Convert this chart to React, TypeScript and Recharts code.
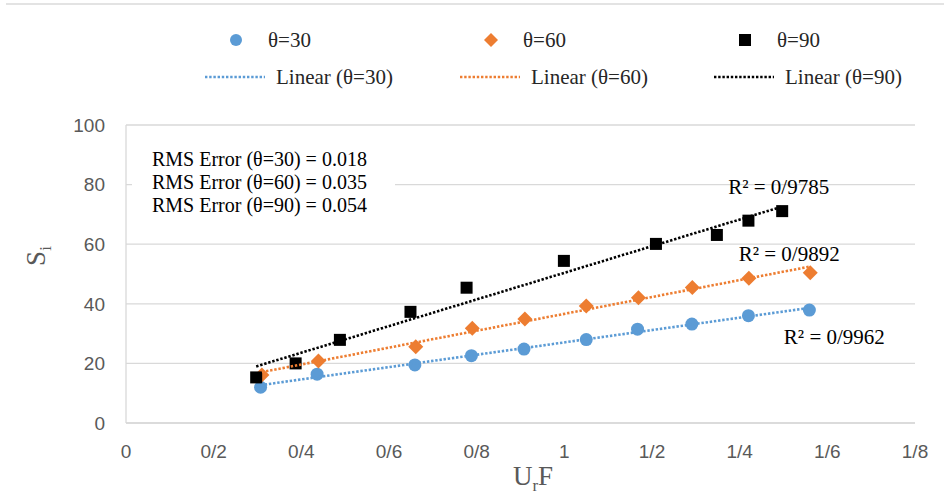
import { ScatterChart, Scatter, XAxis, YAxis, CartesianGrid, ReferenceDot } from 'recharts';

const xTicks = [0, 0.2, 0.4, 0.6, 0.8, 1, 1.2, 1.4, 1.6, 1.8];
const yTicks = [0, 20, 40, 60, 80, 100];

// U_rF / S_i readings for each angle
const ufTheta30 = [0.307, 0.436, 0.659, 0.788, 0.908, 1.05, 1.167, 1.291, 1.42, 1.559];
const siTheta30 = [12.0, 16.4, 19.5, 22.6, 24.8, 28.0, 31.5, 33.2, 36.0, 37.9];
const ufTheta60 = [0.31, 0.439, 0.661, 0.79, 0.91, 1.05, 1.169, 1.292, 1.421, 1.561];
const siTheta60 = [16.1, 20.8, 25.6, 31.8, 34.9, 39.3, 42.0, 45.5, 48.6, 50.4];
const ufTheta90 = [0.297, 0.387, 0.488, 0.649, 0.777, 0.999, 1.209, 1.348, 1.42, 1.497];
const siTheta90 = [15.3, 20.0, 27.9, 37.3, 45.4, 54.4, 60.1, 63.1, 67.9, 71.1];

const seriesNames = ['θ=30', 'θ=60', 'θ=90'];
const trendNames = ['Linear (θ=30)', 'Linear (θ=60)', 'Linear (θ=90)'];
const r2Labels = ['R² = 0/9962', 'R² = 0/9892', 'R² = 0/9785'];
const rmsLabels = ['RMS Error (θ=30) = 0.018', 'RMS Error (θ=60) = 0.035', 'RMS Error (θ=90) = 0.054'];

const BLUE = '#5B9BD5';
const ORANGE = '#ED7D31';
const BLACK = '#000000';
const colors = [BLUE, ORANGE, BLACK];
const serif = '"Liberation Serif", "Times New Roman", serif';
const narrow = '"Liberation Sans Narrow", "Arial Narrow", "Liberation Sans", sans-serif';

const toPoints = (xs: number[], ys: number[]) => xs.map((x, i) => ({ x, y: ys[i] }));

// least squares line, drawn from first to last x like Excel does
function trend(xs: number[], ys: number[]) {
  const n = xs.length;
  const mx = xs.reduce((a, b) => a + b, 0) / n;
  const my = ys.reduce((a, b) => a + b, 0) / n;
  let sxy = 0;
  let sxx = 0;
  xs.forEach((x, i) => {
    sxy += (x - mx) * (ys[i] - my);
    sxx += (x - mx) * (x - mx);
  });
  const b = sxy / sxx;
  const a = my - b * mx;
  const x0 = Math.min(...xs);
  const x1 = Math.max(...xs);
  return [
    { x: x0, y: a + b * x0 },
    { x: x1, y: a + b * x1 },
  ];
}

const circleShape = (p: any) => <circle cx={p.cx} cy={p.cy} r={6.5} fill={BLUE} />;
const diamondShape = (p: any) => (
  <polygon
    points={`${p.cx},${p.cy - 7.5} ${p.cx + 7.5},${p.cy} ${p.cx},${p.cy + 7.5} ${p.cx - 7.5},${p.cy}`}
    fill={ORANGE}
  />
);
const squareShape = (p: any) => <rect x={p.cx - 6} y={p.cy - 6} width={12} height={12} fill={BLACK} />;
const noShape = () => <g />;

const dotLine = (color: string) => ({ stroke: color, strokeWidth: 2.6, strokeDasharray: '2.4 1.8' });

const legendCols = [276, 531, 785];

function LegendMarker({ i }: { i: number }) {
  if (i === 0) return <svg width={16} height={16}><circle cx={8} cy={8} r={6} fill={BLUE} /></svg>;
  if (i === 1) return <svg width={16} height={16}><polygon points="8,1 15,8 8,15 1,8" fill={ORANGE} /></svg>;
  return <svg width={16} height={16}><rect x={2} y={2} width={12} height={12} fill={BLACK} /></svg>;
}

export default function App() {
  const trends = [
    trend(ufTheta30, siTheta30),
    trend(ufTheta60, siTheta60),
    trend(ufTheta90, siTheta90),
  ];
  const r2Pos = [
    { x: 1.616, y: 29.0 },
    { x: 1.513, y: 57.0 },
    { x: 1.489, y: 79.3 },
  ];

  return (
    <div style={{ position: 'absolute', left: 0, top: 0, width: 944, height: 497, background: '#fff', overflow: 'hidden' }}>
      <div style={{ position: 'absolute', left: 6, top: 3, width: 938, height: 2, background: '#e3e3e3' }} />
      <ScatterChart width={944} height={497} margin={{ top: 125, right: 29, bottom: 34, left: 66 }}>
        <CartesianGrid vertical={false} stroke="#d9d9d9" strokeWidth={1.3} />
        <XAxis
          type="number"
          dataKey="x"
          domain={[0, 1.8]}
          ticks={xTicks}
          tickFormatter={(v: number) => String(v).replace('.', '/')}
          tick={{ fill: '#595959', fontSize: 19, fontFamily: narrow }}
          tickLine={false}
          tickSize={0}
          tickMargin={22}
          axisLine={{ stroke: '#d9d9d9', strokeWidth: 1.3 }}
          height={40}
          label={{
            content: () => (
              <text x={533} y={485} textAnchor="middle" fill="#595959" fontFamily={serif} fontSize={27}>
                U<tspan fontSize={17} dy={6}>r</tspan>
                <tspan dy={-6}>F</tspan>
              </text>
            ),
          }}
        />
        <YAxis
          type="number"
          dataKey="y"
          domain={[0, 100]}
          ticks={yTicks}
          tick={{ fill: '#595959', fontSize: 19, fontFamily: narrow }}
          tickLine={false}
          tickSize={0}
          tickMargin={21}
          axisLine={{ stroke: '#d9d9d9', strokeWidth: 1.3 }}
          width={60}
          label={{
            content: () => (
              <text transform="translate(45,256) rotate(-90)" textAnchor="middle" fill="#595959" fontFamily={serif} fontSize={27}>
                S<tspan fontSize={17} dy={6}>i</tspan>
              </text>
            ),
          }}
        />
        <Scatter name={seriesNames[0]} data={toPoints(ufTheta30, siTheta30)} shape={circleShape} isAnimationActive={false} />
        <Scatter name={seriesNames[1]} data={toPoints(ufTheta60, siTheta60)} shape={diamondShape} isAnimationActive={false} />
        <Scatter name={seriesNames[2]} data={toPoints(ufTheta90, siTheta90)} shape={squareShape} isAnimationActive={false} />
        {trends.map((t, i) => (
          <Scatter
            key={trendNames[i]}
            name={trendNames[i]}
            data={t}
            line={dotLine(colors[i])}
            lineType="joint"
            shape={noShape}
            isAnimationActive={false}
          />
        ))}
        {r2Labels.map((lbl, i) => (
          <ReferenceDot
            key={lbl}
            x={r2Pos[i].x}
            y={r2Pos[i].y}
            r={0}
            fill="none"
            stroke="none"
            ifOverflow="visible"
            label={{ value: lbl, position: 'center', fill: '#000', fontSize: 21, fontFamily: serif }}
          />
        ))}
      </ScatterChart>

      <div
        style={{
          position: 'absolute',
          left: 132,
          top: 138,
          width: 263,
          paddingTop: 10,
          paddingBottom: 8,
          background: '#fff',
          fontFamily: serif,
          fontSize: 20,
          lineHeight: '23px',
          color: '#000',
        }}
      >
        {rmsLabels.map((t) => (
          <div key={t} style={{ paddingLeft: 20, whiteSpace: 'nowrap' }}>{t}</div>
        ))}
      </div>

      {seriesNames.map((name, i) => (
        <div key={name} style={{ position: 'absolute', left: legendCols[i] - 48, top: 28, height: 24, display: 'flex', alignItems: 'center', fontFamily: serif, fontSize: 21, color: '#262626' }}>
          <LegendMarker i={i} />
          <span style={{ marginLeft: 24 }}>{name}</span>
        </div>
      ))}
      {trendNames.map((name, i) => (
        <div key={name} style={{ position: 'absolute', left: legendCols[i] - 71, top: 65, height: 24, display: 'flex', alignItems: 'center', fontFamily: serif, fontSize: 21, color: '#262626', whiteSpace: 'nowrap' }}>
          <svg width={60} height={6}>
            <line x1={0} y1={3} x2={60} y2={3} {...dotLine(colors[i])} />
          </svg>
          <span style={{ marginLeft: 11 }}>{name}</span>
        </div>
      ))}
    </div>
  );
}
